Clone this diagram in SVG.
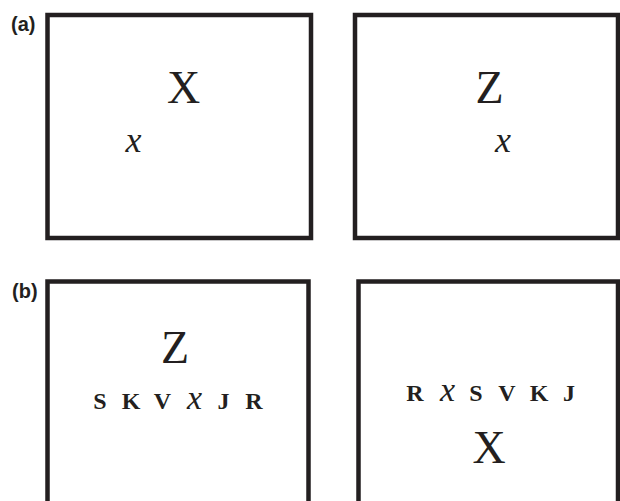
<svg xmlns="http://www.w3.org/2000/svg" width="620" height="501" viewBox="0 0 620 501">
<style>
.box{fill:#fff;stroke:#231f20;stroke-width:4.5}
.lab{font-family:"Liberation Sans",Arial,sans-serif;font-weight:bold;font-size:20px;fill:#231f20}
.big{font-family:"Liberation Serif","DejaVu Serif",serif;font-size:46px;fill:#231f20;text-anchor:middle}
.it{font-family:"Liberation Serif","DejaVu Serif",serif;font-style:italic;font-size:36px;fill:#231f20;text-anchor:middle}
.bd{font-family:"Liberation Serif","DejaVu Serif",serif;font-weight:bold;font-size:24px;fill:#231f20;text-anchor:middle}
.iti{font-family:"Liberation Serif","DejaVu Serif",serif;font-style:italic;font-size:34px;fill:#231f20;text-anchor:middle}
</style>
<rect width="620" height="501" fill="#fff"/>
<text class="lab" x="11" y="31">(a)</text>
<text class="lab" x="12" y="298">(b)</text>
<g id="panel-a-left">
<rect class="box" x="47.5" y="15" width="263.5" height="223"/>
<text class="big" x="183.5" y="103">X</text>
<text class="it" x="133.5" y="152">x</text>
</g>
<g id="panel-a-right">
<rect class="box" x="355" y="15" width="263" height="223"/>
<text class="big" x="489.5" y="103">Z</text>
<text class="it" x="503" y="152">x</text>
</g>
<g id="panel-b-left">
<rect class="box" x="47.5" y="281.5" width="261" height="240"/>
<text class="big" x="175" y="363">Z</text>
<text class="bd" x="100" y="409">S</text>
<text class="bd" x="131" y="409">K</text>
<text class="bd" x="162.5" y="409">V</text>
<text class="iti" x="194.5" y="409">x</text>
<text class="bd" x="223.5" y="409">J</text>
<text class="bd" x="254" y="409">R</text>
</g>
<g id="panel-b-right">
<rect class="box" x="358.5" y="281.5" width="259.5" height="240"/>
<text class="bd" x="415" y="401">R</text>
<text class="iti" x="447.5" y="401">x</text>
<text class="bd" x="476" y="401">S</text>
<text class="bd" x="507" y="401">V</text>
<text class="bd" x="539" y="401">K</text>
<text class="bd" x="569" y="401">J</text>
<text class="big" x="489" y="463">X</text>
</g>
</svg>
